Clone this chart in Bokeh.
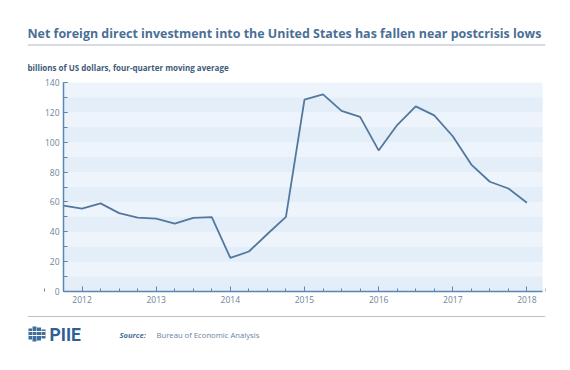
from bokeh.plotting import figure
from bokeh.models import Range1d, FixedTicker, BoxAnnotation
from bokeh.core.properties import value
from bokeh.embed import file_html
from bokeh.resources import INLINE

# ---- data ----
quarters = ["2011Q4",
            "2012Q1", "2012Q2", "2012Q3", "2012Q4",
            "2013Q1", "2013Q2", "2013Q3", "2013Q4",
            "2014Q1", "2014Q2", "2014Q3", "2014Q4",
            "2015Q1", "2015Q2", "2015Q3", "2015Q4",
            "2016Q1", "2016Q2", "2016Q3", "2016Q4",
            "2017Q1", "2017Q2", "2017Q3", "2017Q4",
            "2018Q1"]
fdi = [57.5,
       55.5, 59.0, 52.5, 49.5,
       48.8, 45.5, 49.3, 49.8,
       22.5, 26.8, 38.5, 50.0,
       128.5, 132.0, 121.0, 117.0,
       94.5, 111.5, 124.0, 118.0,
       104.0, 85.0, 73.5, 69.0,
       59.5]
year_ticks = [2012, 2013, 2014, 2015, 2016, 2017, 2018]
y_ticks = [0, 20, 40, 60, 80, 100, 120, 140]

title_text = "Net foreign direct investment into the United States has fallen near postcrisis lows"
subtitle_text = "billions of US dollars, four-quarter moving average"
source_label = "Source:"
source_text = "Bureau of Economic Analysis"
logo_text = "PIIE"

x_dec = [int(q[:4]) + (int(q[5]) - 1) / 4 for q in quarters]

# ---- geometry (page pixels) ----
W, H = 570, 370
BL, BR, BT, BB = 27, 25, 0, 25          # figure borders; frame = 27..545 x 0..345
X0, X1 = 2011.75, 2018.21               # plot-area extent in data
Y0, Y1 = 0, 140
PL, PR, PT, PB = 63, 542, 82, 291        # plot-area extent in page pixels
kx = (PR - PL) / (X1 - X0)
ky = (PB - PT) / (Y1 - Y0)
xs = X0 - (PL - BL) / kx
xe = X1 + ((W - BR) - PR) / kx
ye = Y1 + (PT - BT) / ky
ys = Y0 - ((H - BB) - PB) / ky


def dx(px):
    return xs + (px - BL) / kx


def dy(py):
    return ye - (py - BT) / ky


TITLE_C = "#4a6f96"
AXIS_C = "#5a86b4"
TICK_C = "#6e8399"
LINE_C = "#52789f"
FONT = "Open Sans"

p = figure(width=W, height=H, x_range=Range1d(xs, xe), y_range=Range1d(ys, ye),
           output_backend="svg", toolbar_location=None,
           min_border_left=BL, min_border_right=BR, min_border_top=BT, min_border_bottom=BB)
p.outline_line_color = None
p.xgrid.visible = False
p.ygrid.visible = False
p.background_fill_color = "white"
p.border_fill_color = "white"

# plot-area bands
p.add_layout(BoxAnnotation(left=X0, right=X1, bottom=Y0, top=Y1, fill_color="#eef4fb",
                           fill_alpha=1, line_alpha=0, level="underlay"))
for b in range(0, 140, 20):
    p.add_layout(BoxAnnotation(left=X0, right=X1, bottom=b, top=b + 10, fill_color="#e3eef9",
                               fill_alpha=1, line_alpha=0, level="underlay"))

p.line(x_dec, fdi, line_color=LINE_C, line_width=1.8)

# axes drawn at the plot-area edges
minor_q = [y + q / 4 for y in range(2011, 2019) for q in range(4)]
p.xaxis.ticker = FixedTicker(ticks=year_ticks, minor_ticks=minor_q)
p.yaxis.ticker = FixedTicker(ticks=y_ticks, minor_ticks=list(range(0, 141, 10)))
p.xaxis.bounds = (X0, X1)
p.yaxis.bounds = (Y0, Y1)
p.xaxis.fixed_location = Y0
p.yaxis.fixed_location = X0

for ax in (p.xaxis[0], p.yaxis[0]):
    ax.axis_line_color = AXIS_C
    ax.axis_line_width = 1.5
    ax.major_tick_line_color = AXIS_C
    ax.minor_tick_line_color = AXIS_C
    ax.major_tick_out = 0
    ax.minor_tick_out = 0
    ax.major_label_text_color = TICK_C
    ax.major_label_text_font = FONT
    ax.major_label_text_font_size = "8.5px"
p.xaxis.major_tick_in = 5
p.xaxis.minor_tick_in = 3
p.yaxis.major_tick_in = 4
p.yaxis.minor_tick_in = 4
p.xaxis.major_label_standoff = 4
p.yaxis.major_label_standoff = 4

# ---- header ----
p.text(x=[dx(27)], y=[dy(33)], text=[title_text], text_font=value(FONT), text_font_size="12.45px",
       text_font_style="bold", text_color=TITLE_C, text_baseline="middle")
p.line(x=[dx(27), dx(545)], y=[dy(44.5), dy(44.5)], line_color="#c9d0d7", line_width=1.5)
p.text(x=[dx(27)], y=[dy(67)], text=[subtitle_text], text_font=value(FONT), text_font_size="8px",
       text_font_style="bold", text_color="#3e5b79", text_baseline="middle")

# ---- footer ----
p.line(x=[dx(27), dx(545)], y=[dy(316), dy(316)], line_color="#b9c1c9", line_width=1.2)
# logo icon: building-like block of bars with white grid
p.quad(left=[dx(28), dx(32), dx(36.5), dx(41)], right=[dx(31.5), dx(36), dx(40.5), dx(45)],
       top=[dy(328), dy(326), dy(327), dy(329)], bottom=[dy(339), dy(341), dy(340), dy(338)],
       fill_color="#3f6d9e", line_color=None)
p.line(x=[dx(28), dx(45)], y=[dy(331), dy(331)], line_color="white", line_width=1)
p.line(x=[dx(28), dx(45)], y=[dy(335), dy(335)], line_color="white", line_width=1)
p.text(x=[dx(49)], y=[dy(334)], text=[logo_text], text_font=value("Roboto"), text_font_size="17.5px",
       text_font_style="bold", text_color="#2f5f93", text_baseline="middle")
p.text(x=[dx(119)], y=[dy(334)], text=[source_label], text_font=value(FONT), text_font_size="7.6px",
       text_font_style="bold italic", text_color=TITLE_C, text_baseline="middle")
p.text(x=[dx(156)], y=[dy(334)], text=[source_text], text_font=value(FONT), text_font_size="7.7px",
       text_color=TICK_C, text_baseline="middle")

open("out.html", "w").write(file_html(p, INLINE))
